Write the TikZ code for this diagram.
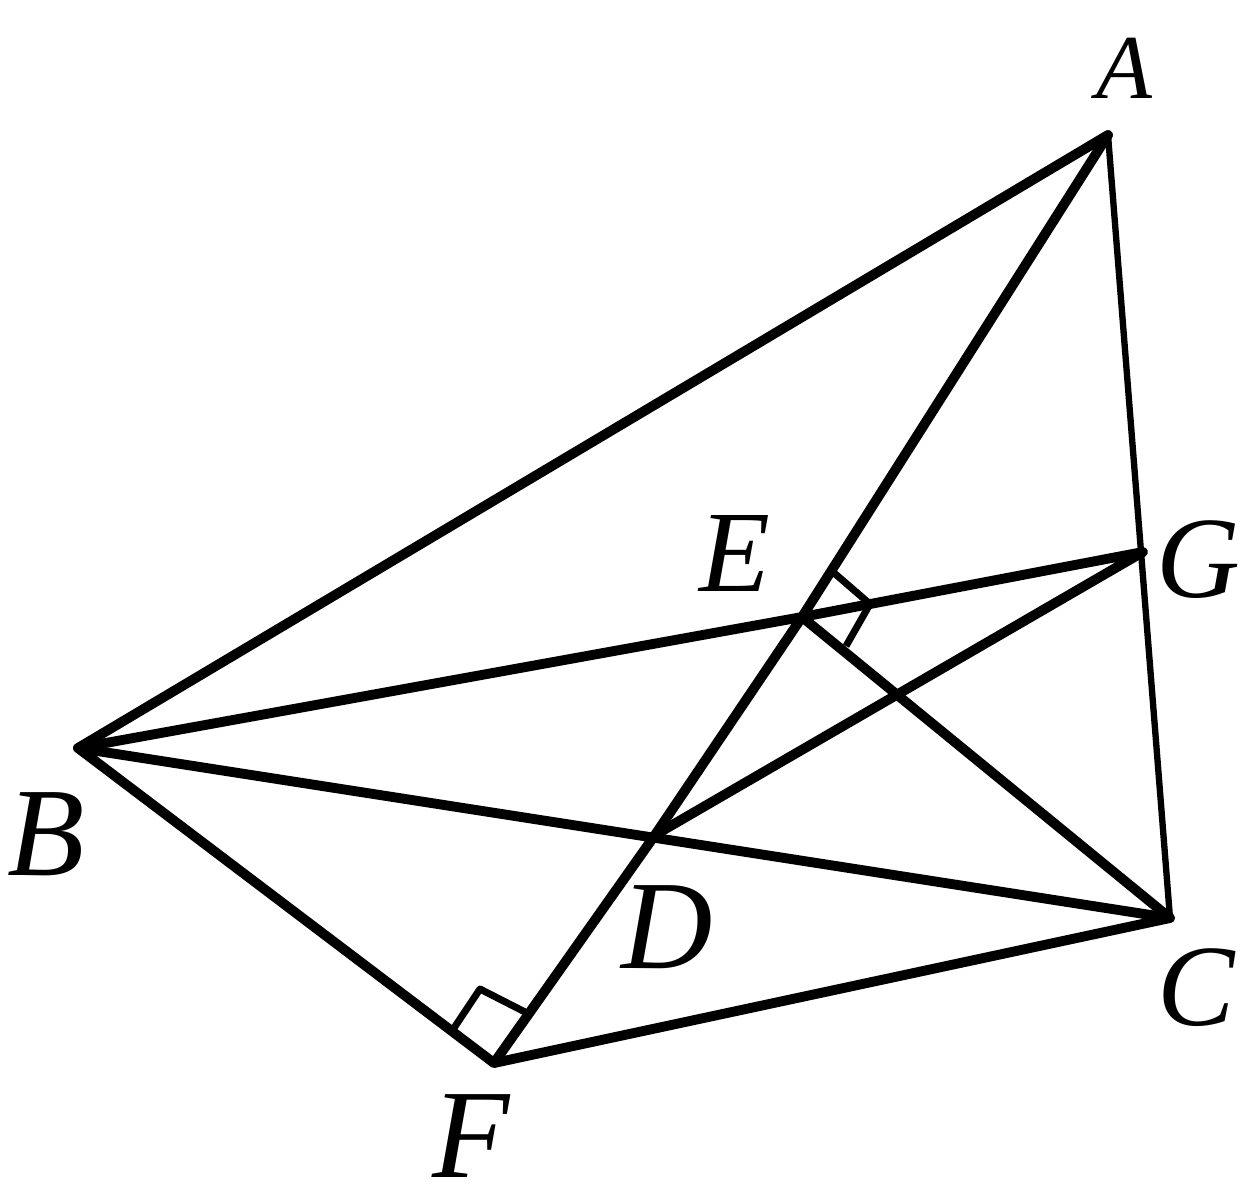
\documentclass[tikz,border=0pt]{standalone}
\usepackage{fontspec}
\setmainfont{Liberation Serif}
\tikzset{
  thick line/.style={line width=2.8pt,line cap=round,line join=round,black},
  thin line/.style={line width=1.8pt,line cap=round,black},
  mark line/.style={line width=2pt,line join=round,black},
  lab/.style={inner sep=0pt,text=black},
  big reg/.style={lab,font=\fontsize{36}{36}\selectfont\itshape},
  mid reg/.style={lab,font=\fontsize{33}{33}\selectfont\itshape},
  small reg/.style={lab,font=\fontsize{26}{26}\selectfont\itshape}
}
\begin{document}
\begin{tikzpicture}[x=0.01cm,y=-0.01cm]
\useasboundingbox (0,0) rectangle (1245,1202);
\coordinate (A) at (1108,135);
\coordinate (B) at (78,748);
\coordinate (C) at (1170,918);
\coordinate (F) at (494,1063);
\coordinate (G) at (1143,552);
\coordinate (D) at (655,835);
\coordinate (E) at (802,617);
\coordinate (e1) at (833,572);
\coordinate (e2) at (870,604);
\coordinate (e3) at (846,646);
\coordinate (f1) at (454,1028);
\coordinate (f2) at (480,989);
\coordinate (f3) at (527,1013);
\draw[thick line] (A) -- (B) -- (F) -- (C) -- (B);
\draw[thick line] (B) -- (E) -- (G) -- (D);
\draw[thick line] (A) -- (E) -- (D) -- (F);
\draw[thick line] (E) -- (C);
\draw[thin line] (A) -- (C);
\draw[mark line] (e1) -- (e2) -- (e3);
\draw[mark line] (f1) -- (f2) -- (f3);
\node[small reg] (la) at (1124,68) {A};
\node[big reg] (lb) at (46,834) {B};
\node[mid reg] (lc) at (1196,988) {C};
\node[big reg] (ld) at (667,927) {D};
\node[mid reg] (le) at (735,553) {E};
\node[big reg] (lf) at (471,1136) {F};
\node[mid reg] (lg) at (1198,560) {G};
\end{tikzpicture}
\end{document}
